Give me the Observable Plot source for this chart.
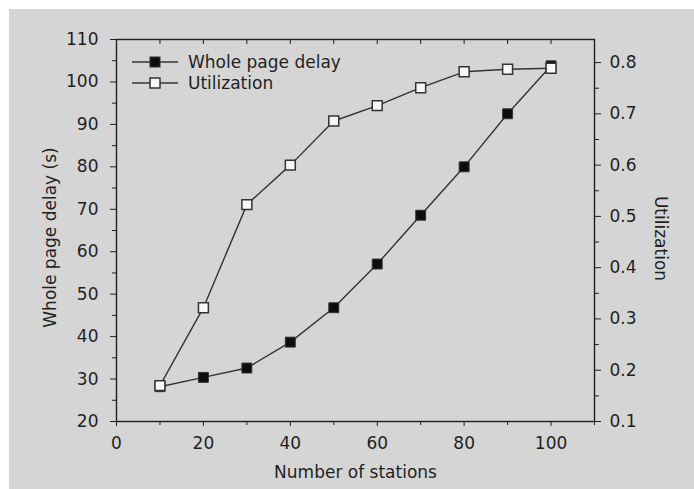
<!DOCTYPE html>
<html><head><meta charset="utf-8">
<script src="https://cdn.jsdelivr.net/npm/d3@7"></script>
<script src="https://cdn.jsdelivr.net/npm/@observablehq/plot@0.6"></script>
<style>
html,body{margin:0;padding:0;background:#fff;width:694px;height:489px;overflow:hidden;}
#page{position:absolute;left:9px;top:9px;width:685px;height:480px;background:#d5d5d5;}
#chart{position:absolute;left:0;top:0;width:694px;height:489px;}
#chart svg{position:absolute;left:0;top:0;}
</style></head><body><div id="page"></div><div id="chart"></div>
<script>
// ---- data ----
const stations = [10, 20, 30, 40, 50, 60, 70, 80, 90, 100];
const delay = [28.2, 30.4, 32.6, 38.7, 46.8, 57.1, 68.6, 80.0, 92.5, 103.8];
const utilization = [0.170, 0.322, 0.523, 0.600, 0.686, 0.716, 0.751, 0.782, 0.787, 0.789];

const xTicks = [0, 20, 40, 60, 80, 100];
const xMinorTicks = [10, 30, 50, 70, 90, 110];
const xTopTicks = [10, 20, 30, 40, 50, 60, 70, 80, 90, 100];
const yTicks = [20, 30, 40, 50, 60, 70, 80, 90, 100, 110];
const yMinorTicks = [25, 35, 45, 55, 65, 75, 85, 95, 105];
const uTicks = [0.1, 0.2, 0.3, 0.4, 0.5, 0.6, 0.7, 0.8];
const uMinorTicks = [0.15, 0.25, 0.35, 0.45, 0.55, 0.65, 0.75];

const seriesNames = ["Whole page delay", "Utilization"];
const xLabel = "Number of stations";
const yLabel = "Whole page delay (s)";
const uLabel = "Utilization";

// map utilization onto the delay axis (right axis 0.1–0.845 aligned with left 20–110)
const Y0 = 20, Y1 = 110, U0 = 0.1, U1 = 0.845;
const uToY = u => Y0 + (u - U0) * (Y1 - Y0) / (U1 - U0);
const yToU = y => U0 + (y - Y0) * (U1 - U0) / (Y1 - Y0);

const delayRows = stations.map((s, i) => ({x: s, y: delay[i]}));
const utilRows = stations.map((s, i) => ({x: s, y: uToY(utilization[i])}));

const ink = "#1f1f1f";
const font = "DejaVu Sans";
const fs = 17;

const chart = Plot.plot({
  width: 694,
  height: 489,
  marginLeft: 116,
  marginRight: 100,
  marginTop: 39,
  marginBottom: 68,
  style: {background: "transparent", fontFamily: font, fontSize: fs + "px", color: ink},
  x: {domain: [0, 110]},
  y: {domain: [Y0, Y1]},
  marks: [
    Plot.frame({stroke: ink, strokeWidth: 1.4}),
    Plot.axisX({ticks: xTicks, tickSize: 5, tickPadding: 10, label: null, fontSize: fs, stroke: ink}),
    Plot.axisX({ticks: xMinorTicks, tickSize: 4, tickFormat: () => "", label: null, stroke: ink}),
    Plot.axisX({anchor: "top", ticks: xTopTicks, tickSize: -4, tickFormat: () => "", label: null, stroke: ink}),
    Plot.axisY({ticks: yTicks, tickSize: 6, tickPadding: 12, label: null, fontSize: fs, stroke: ink}),
    Plot.axisY({ticks: yMinorTicks, tickSize: 4, tickFormat: () => "", label: null, stroke: ink}),
    Plot.axisY({anchor: "right", ticks: uTicks.map(uToY), tickFormat: d => d3.format(".1f")(yToU(d)), tickSize: 6, tickPadding: 9, label: null, fontSize: fs, stroke: ink}),
    Plot.axisY({anchor: "right", ticks: uMinorTicks.map(uToY), tickSize: 4, tickFormat: () => "", label: null, stroke: ink}),
    Plot.text([yLabel], {frameAnchor: "left", textAnchor: "middle", dx: -66, dy: 7, rotate: -90, fontSize: fs, fill: ink}),
    Plot.text([uLabel], {frameAnchor: "right", textAnchor: "middle", dx: 66, dy: 8, rotate: 90, fontSize: fs, fill: ink}),
    Plot.text([xLabel], {frameAnchor: "bottom", dy: 56, fontSize: fs, fill: ink}),
    Plot.line(delayRows, {x: "x", y: "y", stroke: "#333", strokeWidth: 1.4}),
    Plot.line(utilRows, {x: "x", y: "y", stroke: "#333", strokeWidth: 1.4}),
    Plot.dot(delayRows, {x: "x", y: "y", symbol: "square", r: 5.6, fill: "#0d0d0d", stroke: "#333", strokeWidth: 1}),
    Plot.dot(utilRows, {x: "x", y: "y", symbol: "square", r: 5.6, fill: "#f7f7f7", stroke: "#333", strokeWidth: 1.5})
  ]
});
document.getElementById("chart").appendChild(chart);

// legend (inside the plot frame, top-left)
const svg = d3.select("#chart").append("svg")
  .attr("width", 694).attr("height", 489)
  .style("pointer-events", "none");
const legendFills = ["#0d0d0d", "#f7f7f7"];
seriesNames.forEach((name, i) => {
  const cy = 62 + i * 21;
  const g = svg.append("g");
  g.append("line").attr("x1", 132).attr("x2", 178).attr("y1", cy).attr("y2", cy)
    .attr("stroke", "#333").attr("stroke-width", 1.4);
  g.append("rect").attr("x", 150).attr("y", cy - 5).attr("width", 10).attr("height", 10)
    .attr("fill", legendFills[i]).attr("stroke", "#333").attr("stroke-width", i ? 1.5 : 1);
  g.append("text").attr("x", 188).attr("y", cy).attr("dy", "0.35em")
    .attr("font-family", font).attr("font-size", fs).attr("fill", ink).text(name);
});
</script>
</body></html>
